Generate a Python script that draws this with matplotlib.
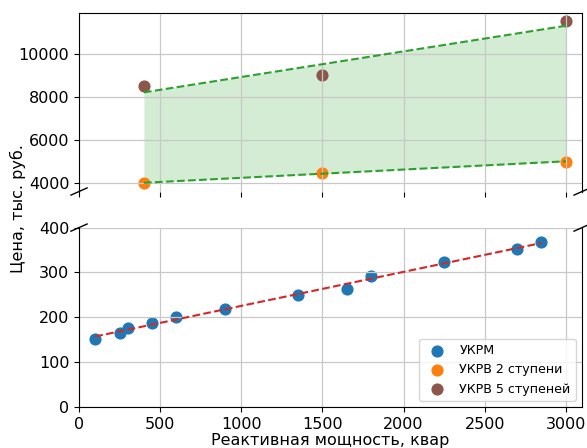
import numpy as np
import matplotlib
matplotlib.use('Agg')
import matplotlib.pyplot as plt

# УКРМ
ukrm_q = [100, 250, 300, 450, 600, 900, 1350, 1650, 1800, 2250, 2700, 2850]
ukrm_price = [152, 166, 176, 187, 201, 218, 249, 263, 293, 324, 352, 367]

# УКРВ
ukrv_q = [400, 1500, 3000]
ukrv2_price = [4000, 4500, 5000]
ukrv5_price = [8500, 9000, 11500]

fs = 11.5

fig = plt.figure(figsize=(5.87, 4.48), dpi=100)
ax1 = fig.add_axes([0.1346, 0.5725, 0.857, 0.3985])
ax2 = fig.add_axes([0.1346, 0.0915, 0.857, 0.4005], sharex=ax1)

# linear fits
x_fit = np.array([min(ukrv_q), max(ukrv_q)])
p2 = np.polyfit(ukrv_q, ukrv2_price, 1)
p5 = np.polyfit(ukrv_q, ukrv5_price, 1)
lo = np.polyval(p2, x_fit)
hi = np.polyval(p5, x_fit)
ax1.fill_between(x_fit, lo, hi, color='tab:green', alpha=0.2, linewidth=0)
ax1.plot(x_fit, hi, '--', color='tab:green', linewidth=1.5)
ax1.plot(x_fit, lo, '--', color='tab:green', linewidth=1.5)
h2 = ax1.scatter(ukrv_q, ukrv2_price, s=60, color='tab:orange', label='УКРВ 2 ступени')
h5 = ax1.scatter(ukrv_q, ukrv5_price, s=60, color='tab:brown', label='УКРВ 5 ступеней')

pm = np.polyfit(ukrm_q, ukrm_price, 1)
xm = np.array([min(ukrm_q), max(ukrm_q)])
ax2.plot(xm, np.polyval(pm, xm), '--', color='tab:red', linewidth=1.5)
h1 = ax2.scatter(ukrm_q, ukrm_price, s=60, color='tab:blue', label='УКРМ')

ax1.set_yticks([4000, 6000, 8000, 10000])
ax2.set_ylim(0, 400)
ax2.set_yticks([0, 100, 200, 300, 400])
ax2.set_xlim(0, 3100)
ax2.set_xticks([0, 500, 1000, 1500, 2000, 2500, 3000])

for ax in (ax1, ax2):
    ax.grid(True, color='#c8c8c8', linewidth=0.9)
    ax.tick_params(labelsize=fs)

ax1.spines['bottom'].set_visible(False)
ax2.spines['top'].set_visible(False)
ax1.tick_params(labelbottom=False)

# break marks
dx, dy = 0.016, 0.02
kw = dict(transform=ax1.transAxes, color='k', clip_on=False, linewidth=1)
ax1.plot((-dx, +dx), (-dy, +dy), **kw)
ax1.plot((1 - dx, 1 + dx), (-dy, +dy), **kw)
kw.update(transform=ax2.transAxes)
ax2.plot((-dx, +dx), (1 - dy, 1 + dy), **kw)
ax2.plot((1 - dx, 1 + dx), (1 - dy, 1 + dy), **kw)

ax2.legend(handles=[h1, h2, h5], loc='lower right', fontsize=9.1)
ax2.set_xlabel('Реактивная мощность, квар', fontsize=fs, labelpad=1)
fig.text(0.03, 0.535, 'Цена, тыс. руб.', rotation=90, fontsize=fs,
         ha='center', va='center')

fig.savefig('out.png', dpi=100)
